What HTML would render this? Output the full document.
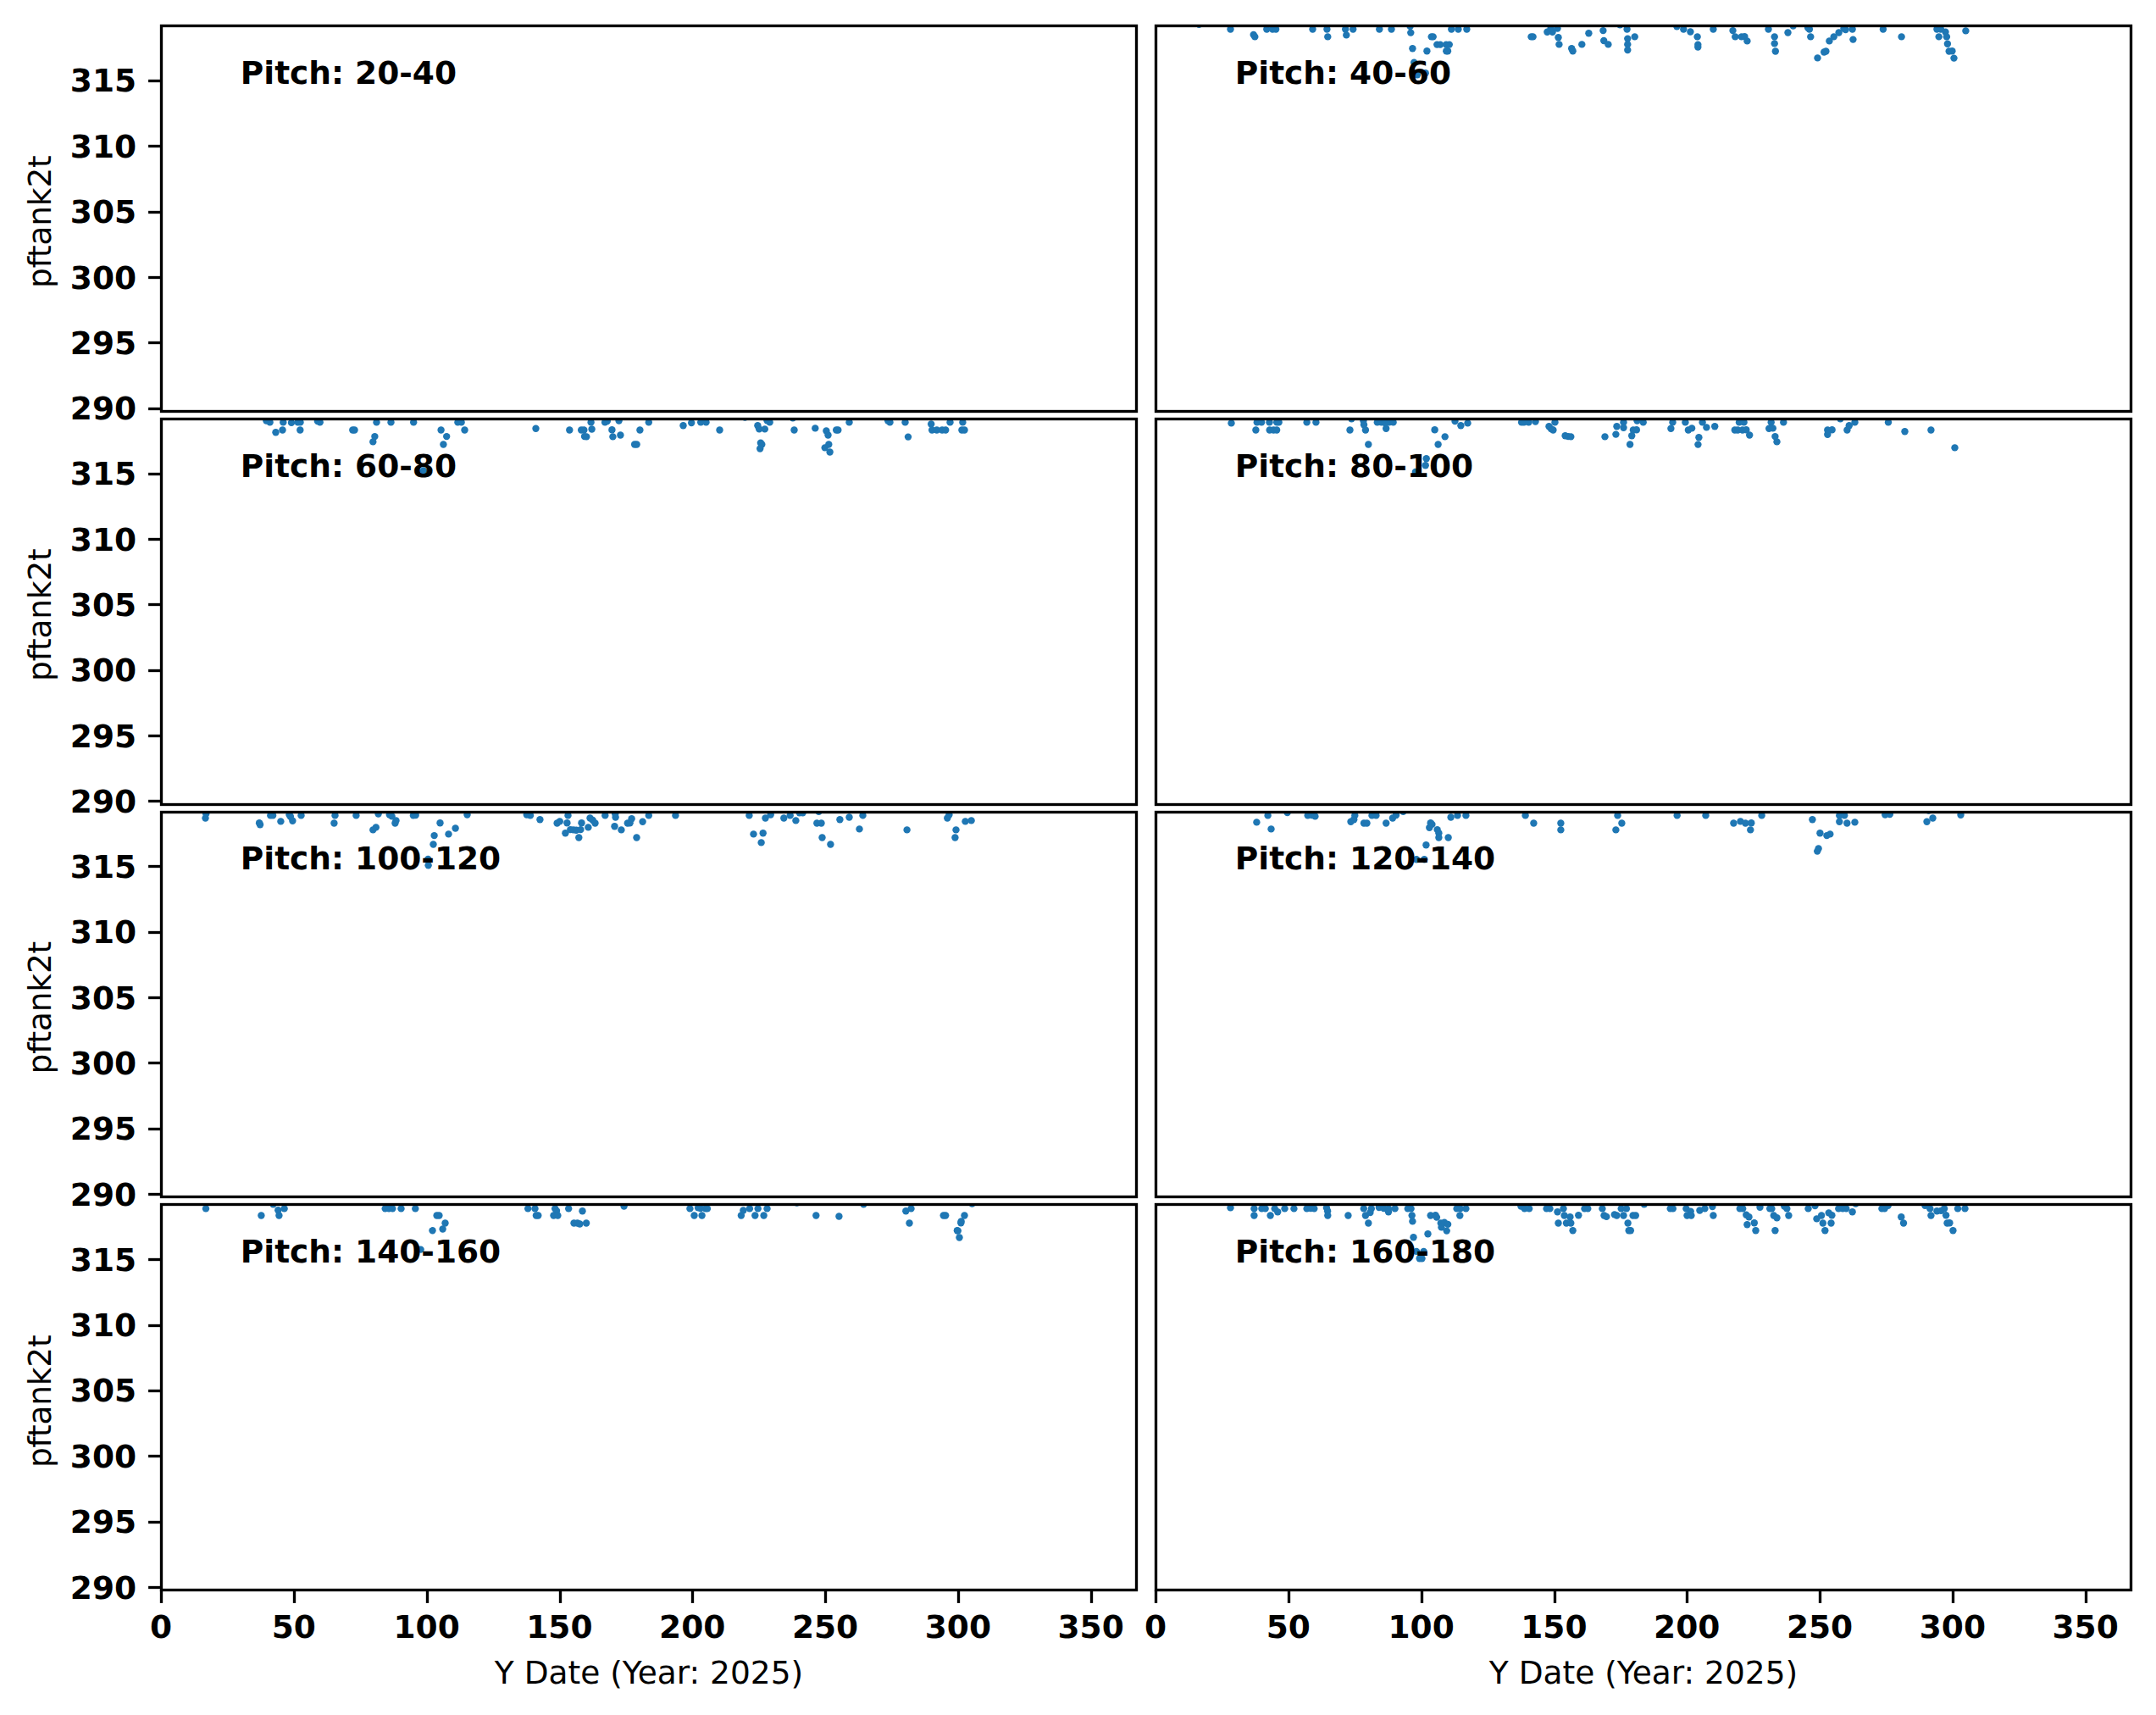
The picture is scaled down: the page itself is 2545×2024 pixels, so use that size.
<!DOCTYPE html>
<html><head><meta charset="utf-8"><title>pftank2t by pitch</title>
<style>
html,body{margin:0;padding:0;background:#fff;}
svg{display:block}
text{font-family:"DejaVu Sans","Liberation Sans",sans-serif;font-size:37.5px;fill:#000}
.b{font-weight:bold}
.sp{fill:none;stroke:#000;stroke-width:3.333;stroke-linejoin:miter}
.tk{stroke:#000;stroke-width:3.333;fill:none}
.d{fill:#1f77b4}
</style></head><body>
<svg width="2545" height="2024" viewBox="0 0 2545 2024">
<rect x="0" y="0" width="2545" height="2024" fill="#fff"/>
<defs>
<clipPath id="c00"><rect x="190.5" y="30.5" width="1151" height="455"/></clipPath>
<clipPath id="c01"><rect x="1364.5" y="30.5" width="1151" height="455"/></clipPath>
<clipPath id="c10"><rect x="190.5" y="494.5" width="1151" height="455"/></clipPath>
<clipPath id="c11"><rect x="1364.5" y="494.5" width="1151" height="455"/></clipPath>
<clipPath id="c20"><rect x="190.5" y="958.5" width="1151" height="454"/></clipPath>
<clipPath id="c21"><rect x="1364.5" y="958.5" width="1151" height="454"/></clipPath>
<clipPath id="c30"><rect x="190.5" y="1421.5" width="1151" height="455"/></clipPath>
<clipPath id="c31"><rect x="1364.5" y="1421.5" width="1151" height="455"/></clipPath>
</defs>
<line class="tk" x1="175.10" y1="482.50" x2="190.5" y2="482.50"/>
<text class="b" text-anchor="end" x="161.12" y="495.00">290</text>
<line class="tk" x1="175.10" y1="404.50" x2="190.5" y2="404.50"/>
<text class="b" text-anchor="end" x="161.12" y="418.00">295</text>
<line class="tk" x1="175.10" y1="327.50" x2="190.5" y2="327.50"/>
<text class="b" text-anchor="end" x="161.12" y="341.00">300</text>
<line class="tk" x1="175.10" y1="250.50" x2="190.5" y2="250.50"/>
<text class="b" text-anchor="end" x="161.12" y="263.00">305</text>
<line class="tk" x1="175.10" y1="172.50" x2="190.5" y2="172.50"/>
<text class="b" text-anchor="end" x="161.12" y="186.00">310</text>
<line class="tk" x1="175.10" y1="95.50" x2="190.5" y2="95.50"/>
<text class="b" text-anchor="end" x="161.12" y="108.00">315</text>
<text text-anchor="middle" transform="translate(60.2,261.70) rotate(-90)" style="letter-spacing:-0.2px">pftank2t</text>
<rect class="sp" x="190.5" y="30.5" width="1151" height="455.0"/>
<text class="b" x="283.80" y="99">Pitch: 20-40</text>
<g class="d" clip-path="url(#c01)">
<circle cx="1415.4" cy="28.9" r="4.2"/>
<circle cx="1452.5" cy="34.5" r="4.2"/>
<circle cx="1479.7" cy="41.0" r="4.2"/>
<circle cx="1481.3" cy="43.4" r="4.2"/>
<circle cx="1495.3" cy="34.5" r="4.2"/>
<circle cx="1502.2" cy="34.5" r="4.2"/>
<circle cx="1506.1" cy="34.5" r="4.2"/>
<circle cx="1549.5" cy="34.5" r="4.2"/>
<circle cx="1566.4" cy="34.5" r="4.2"/>
<circle cx="1567.3" cy="43.4" r="4.2"/>
<circle cx="1588.2" cy="34.5" r="4.2"/>
<circle cx="1589.3" cy="41.4" r="4.2"/>
<circle cx="1597.2" cy="34.5" r="4.2"/>
<circle cx="1628.3" cy="34.5" r="4.2"/>
<circle cx="1642.5" cy="34.5" r="4.2"/>
<circle cx="1664.6" cy="31.0" r="4.2"/>
<circle cx="1665.3" cy="38.6" r="4.2"/>
<circle cx="1689.7" cy="43.4" r="4.2"/>
<circle cx="1691.7" cy="43.4" r="4.2"/>
<circle cx="1696.3" cy="52.6" r="4.2"/>
<circle cx="1700.1" cy="52.6" r="4.2"/>
<circle cx="1707.1" cy="52.6" r="4.2"/>
<circle cx="1710.8" cy="52.6" r="4.2"/>
<circle cx="1667.4" cy="57.3" r="4.2"/>
<circle cx="1684.4" cy="60.2" r="4.2"/>
<circle cx="1707.3" cy="60.2" r="4.2"/>
<circle cx="1709.0" cy="60.2" r="4.2"/>
<circle cx="1669.2" cy="73.7" r="4.2"/>
<circle cx="1673.0" cy="88.3" r="4.2"/>
<circle cx="1682.7" cy="86.2" r="4.2"/>
<circle cx="1713.3" cy="34.5" r="4.2"/>
<circle cx="1721.4" cy="34.5" r="4.2"/>
<circle cx="1731.4" cy="34.5" r="4.2"/>
<circle cx="1807.5" cy="43.4" r="4.2"/>
<circle cx="1809.6" cy="43.4" r="4.2"/>
<circle cx="1826.4" cy="37.8" r="4.2"/>
<circle cx="1832.6" cy="37.8" r="4.2"/>
<circle cx="1830.6" cy="33.6" r="4.2"/>
<circle cx="1838.5" cy="33.6" r="4.2"/>
<circle cx="1839.5" cy="44.2" r="4.2"/>
<circle cx="1840.4" cy="52.4" r="4.2"/>
<circle cx="1855.2" cy="57.3" r="4.2"/>
<circle cx="1856.6" cy="60.2" r="4.2"/>
<circle cx="1867.3" cy="52.4" r="4.2"/>
<circle cx="1875.4" cy="39.2" r="4.2"/>
<circle cx="1892.4" cy="36.1" r="4.2"/>
<circle cx="1893.2" cy="48.0" r="4.2"/>
<circle cx="1898.4" cy="52.4" r="4.2"/>
<circle cx="1912.3" cy="29.2" r="4.2"/>
<circle cx="1920.6" cy="34.5" r="4.2"/>
<circle cx="1921.3" cy="45.6" r="4.2"/>
<circle cx="1921.3" cy="52.4" r="4.2"/>
<circle cx="1921.3" cy="59.1" r="4.2"/>
<circle cx="1929.7" cy="43.4" r="4.2"/>
<circle cx="1979.4" cy="31.3" r="4.2"/>
<circle cx="1987.3" cy="34.5" r="4.2"/>
<circle cx="1995.4" cy="37.5" r="4.2"/>
<circle cx="2003.6" cy="43.4" r="4.2"/>
<circle cx="2004.3" cy="52.8" r="4.2"/>
<circle cx="2004.3" cy="55.6" r="4.2"/>
<circle cx="2022.4" cy="34.5" r="4.2"/>
<circle cx="2045.5" cy="36.1" r="4.2"/>
<circle cx="2048.3" cy="43.4" r="4.2"/>
<circle cx="2055.8" cy="43.4" r="4.2"/>
<circle cx="2059.4" cy="43.1" r="4.2"/>
<circle cx="2062.4" cy="48.4" r="4.2"/>
<circle cx="2087.5" cy="34.5" r="4.2"/>
<circle cx="2094.7" cy="43.4" r="4.2"/>
<circle cx="2094.7" cy="51.4" r="4.2"/>
<circle cx="2095.8" cy="60.5" r="4.2"/>
<circle cx="2110.5" cy="38.5" r="4.2"/>
<circle cx="2116.7" cy="30.6" r="4.2"/>
<circle cx="2134.1" cy="32.7" r="4.2"/>
<circle cx="2135.9" cy="34.5" r="4.2"/>
<circle cx="2137.3" cy="43.4" r="4.2"/>
<circle cx="2145.5" cy="68.4" r="4.2"/>
<circle cx="2153.2" cy="61.5" r="4.2"/>
<circle cx="2155.4" cy="60.5" r="4.2"/>
<circle cx="2159.4" cy="48.4" r="4.2"/>
<circle cx="2164.7" cy="43.4" r="4.2"/>
<circle cx="2170.6" cy="38.5" r="4.2"/>
<circle cx="2176.5" cy="33.6" r="4.2"/>
<circle cx="2178.6" cy="35.0" r="4.2"/>
<circle cx="2186.6" cy="34.5" r="4.2"/>
<circle cx="2187.4" cy="46.6" r="4.2"/>
<circle cx="2222.9" cy="34.5" r="4.2"/>
<circle cx="2244.6" cy="43.4" r="4.2"/>
<circle cx="2286.4" cy="34.5" r="4.2"/>
<circle cx="2290.9" cy="34.5" r="4.2"/>
<circle cx="2296.5" cy="37.8" r="4.2"/>
<circle cx="2288.7" cy="43.4" r="4.2"/>
<circle cx="2297.9" cy="43.4" r="4.2"/>
<circle cx="2298.9" cy="51.7" r="4.2"/>
<circle cx="2300.7" cy="60.5" r="4.2"/>
<circle cx="2304.4" cy="60.2" r="4.2"/>
<circle cx="2306.5" cy="68.6" r="4.2"/>
<circle cx="2320.4" cy="36.4" r="4.2"/>
</g>
<rect class="sp" x="1364.5" y="30.5" width="1151" height="455.0"/>
<text class="b" x="1457.80" y="99">Pitch: 40-60</text>
<g class="d" clip-path="url(#c10)">
<circle cx="314.4" cy="496.6" r="4.2"/>
<circle cx="318.6" cy="498.4" r="4.2"/>
<circle cx="334.3" cy="498.4" r="4.2"/>
<circle cx="344.0" cy="498.9" r="4.2"/>
<circle cx="351.6" cy="498.4" r="4.2"/>
<circle cx="354.5" cy="498.4" r="4.2"/>
<circle cx="374.9" cy="497.0" r="4.2"/>
<circle cx="377.7" cy="498.4" r="4.2"/>
<circle cx="325.5" cy="510.3" r="4.2"/>
<circle cx="333.5" cy="507.5" r="4.2"/>
<circle cx="354.3" cy="507.5" r="4.2"/>
<circle cx="416.3" cy="507.5" r="4.2"/>
<circle cx="418.5" cy="507.5" r="4.2"/>
<circle cx="444.5" cy="498.4" r="4.2"/>
<circle cx="461.5" cy="498.4" r="4.2"/>
<circle cx="442.4" cy="515.1" r="4.2"/>
<circle cx="440.3" cy="521.4" r="4.2"/>
<circle cx="488.2" cy="498.4" r="4.2"/>
<circle cx="520.6" cy="507.5" r="4.2"/>
<circle cx="527.2" cy="515.1" r="4.2"/>
<circle cx="523.4" cy="524.5" r="4.2"/>
<circle cx="540.4" cy="498.4" r="4.2"/>
<circle cx="544.6" cy="498.4" r="4.2"/>
<circle cx="548.5" cy="507.5" r="4.2"/>
<circle cx="500.0" cy="555.5" r="4.2"/>
<circle cx="632.5" cy="505.7" r="4.2"/>
<circle cx="672.3" cy="507.5" r="4.2"/>
<circle cx="686.2" cy="507.5" r="4.2"/>
<circle cx="689.3" cy="507.5" r="4.2"/>
<circle cx="690.0" cy="515.1" r="4.2"/>
<circle cx="692.3" cy="515.4" r="4.2"/>
<circle cx="697.6" cy="498.4" r="4.2"/>
<circle cx="698.6" cy="506.5" r="4.2"/>
<circle cx="714.1" cy="498.4" r="4.2"/>
<circle cx="716.8" cy="497.0" r="4.2"/>
<circle cx="722.4" cy="507.2" r="4.2"/>
<circle cx="723.4" cy="515.4" r="4.2"/>
<circle cx="730.6" cy="496.6" r="4.2"/>
<circle cx="732.4" cy="513.5" r="4.2"/>
<circle cx="749.1" cy="524.5" r="4.2"/>
<circle cx="751.6" cy="524.5" r="4.2"/>
<circle cx="755.4" cy="507.5" r="4.2"/>
<circle cx="765.8" cy="498.4" r="4.2"/>
<circle cx="806.5" cy="502.3" r="4.2"/>
<circle cx="816.2" cy="499.1" r="4.2"/>
<circle cx="827.2" cy="498.4" r="4.2"/>
<circle cx="833.5" cy="498.4" r="4.2"/>
<circle cx="849.5" cy="507.5" r="4.2"/>
<circle cx="879.4" cy="492.5" r="4.2"/>
<circle cx="894.4" cy="502.3" r="4.2"/>
<circle cx="896.2" cy="506.4" r="4.2"/>
<circle cx="902.8" cy="506.4" r="4.2"/>
<circle cx="905.5" cy="496.3" r="4.2"/>
<circle cx="908.6" cy="498.4" r="4.2"/>
<circle cx="897.9" cy="522.8" r="4.2"/>
<circle cx="899.3" cy="524.5" r="4.2"/>
<circle cx="897.2" cy="529.5" r="4.2"/>
<circle cx="935.9" cy="493.3" r="4.2"/>
<circle cx="937.5" cy="507.5" r="4.2"/>
<circle cx="962.3" cy="505.4" r="4.2"/>
<circle cx="975.4" cy="508.5" r="4.2"/>
<circle cx="977.5" cy="513.5" r="4.2"/>
<circle cx="987.2" cy="507.5" r="4.2"/>
<circle cx="989.3" cy="507.5" r="4.2"/>
<circle cx="978.3" cy="524.5" r="4.2"/>
<circle cx="973.7" cy="528.4" r="4.2"/>
<circle cx="979.6" cy="533.5" r="4.2"/>
<circle cx="1002.5" cy="498.4" r="4.2"/>
<circle cx="1048.2" cy="496.6" r="4.2"/>
<circle cx="1050.5" cy="498.4" r="4.2"/>
<circle cx="1068.5" cy="498.4" r="4.2"/>
<circle cx="1072.0" cy="515.6" r="4.2"/>
<circle cx="1099.2" cy="500.5" r="4.2"/>
<circle cx="1100.2" cy="507.5" r="4.2"/>
<circle cx="1105.8" cy="507.5" r="4.2"/>
<circle cx="1112.1" cy="507.5" r="4.2"/>
<circle cx="1116.2" cy="507.5" r="4.2"/>
<circle cx="1121.5" cy="498.4" r="4.2"/>
<circle cx="1136.4" cy="498.4" r="4.2"/>
<circle cx="1135.4" cy="507.5" r="4.2"/>
<circle cx="1138.5" cy="507.5" r="4.2"/>
</g>
<line class="tk" x1="175.10" y1="945.50" x2="190.5" y2="945.50"/>
<text class="b" text-anchor="end" x="161.12" y="959.00">290</text>
<line class="tk" x1="175.10" y1="868.50" x2="190.5" y2="868.50"/>
<text class="b" text-anchor="end" x="161.12" y="882.00">295</text>
<line class="tk" x1="175.10" y1="791.50" x2="190.5" y2="791.50"/>
<text class="b" text-anchor="end" x="161.12" y="804.00">300</text>
<line class="tk" x1="175.10" y1="713.50" x2="190.5" y2="713.50"/>
<text class="b" text-anchor="end" x="161.12" y="727.00">305</text>
<line class="tk" x1="175.10" y1="636.50" x2="190.5" y2="636.50"/>
<text class="b" text-anchor="end" x="161.12" y="650.00">310</text>
<line class="tk" x1="175.10" y1="559.50" x2="190.5" y2="559.50"/>
<text class="b" text-anchor="end" x="161.12" y="572.00">315</text>
<text text-anchor="middle" transform="translate(60.2,725.70) rotate(-90)" style="letter-spacing:-0.2px">pftank2t</text>
<rect class="sp" x="190.5" y="494.5" width="1151" height="455.0"/>
<text class="b" x="283.80" y="563">Pitch: 60-80</text>
<g class="d" clip-path="url(#c11)">
<circle cx="1453.5" cy="499.4" r="4.2"/>
<circle cx="1483.8" cy="498.4" r="4.2"/>
<circle cx="1489.1" cy="498.4" r="4.2"/>
<circle cx="1498.5" cy="498.4" r="4.2"/>
<circle cx="1507.2" cy="498.4" r="4.2"/>
<circle cx="1509.6" cy="498.4" r="4.2"/>
<circle cx="1482.4" cy="507.5" r="4.2"/>
<circle cx="1498.7" cy="507.5" r="4.2"/>
<circle cx="1503.3" cy="507.5" r="4.2"/>
<circle cx="1507.1" cy="507.5" r="4.2"/>
<circle cx="1542.6" cy="498.4" r="4.2"/>
<circle cx="1553.4" cy="498.4" r="4.2"/>
<circle cx="1595.4" cy="494.3" r="4.2"/>
<circle cx="1609.4" cy="496.6" r="4.2"/>
<circle cx="1610.0" cy="501.2" r="4.2"/>
<circle cx="1593.5" cy="507.5" r="4.2"/>
<circle cx="1611.9" cy="507.5" r="4.2"/>
<circle cx="1615.3" cy="524.5" r="4.2"/>
<circle cx="1625.8" cy="498.4" r="4.2"/>
<circle cx="1630.6" cy="498.4" r="4.2"/>
<circle cx="1634.8" cy="499.1" r="4.2"/>
<circle cx="1639.7" cy="498.4" r="4.2"/>
<circle cx="1644.6" cy="498.4" r="4.2"/>
<circle cx="1636.2" cy="505.7" r="4.2"/>
<circle cx="1693.6" cy="507.2" r="4.2"/>
<circle cx="1705.7" cy="515.4" r="4.2"/>
<circle cx="1697.6" cy="524.5" r="4.2"/>
<circle cx="1683.7" cy="541.3" r="4.2"/>
<circle cx="1682.7" cy="549.2" r="4.2"/>
<circle cx="1670.9" cy="556.9" r="4.2"/>
<circle cx="1717.5" cy="497.0" r="4.2"/>
<circle cx="1724.4" cy="502.3" r="4.2"/>
<circle cx="1732.5" cy="499.4" r="4.2"/>
<circle cx="1796.1" cy="498.4" r="4.2"/>
<circle cx="1798.9" cy="498.4" r="4.2"/>
<circle cx="1804.5" cy="498.4" r="4.2"/>
<circle cx="1812.5" cy="497.5" r="4.2"/>
<circle cx="1835.5" cy="498.4" r="4.2"/>
<circle cx="1828.5" cy="503.3" r="4.2"/>
<circle cx="1830.9" cy="506.1" r="4.2"/>
<circle cx="1833.4" cy="507.5" r="4.2"/>
<circle cx="1847.6" cy="514.2" r="4.2"/>
<circle cx="1851.1" cy="515.1" r="4.2"/>
<circle cx="1854.3" cy="515.4" r="4.2"/>
<circle cx="1894.5" cy="515.4" r="4.2"/>
<circle cx="1907.4" cy="512.6" r="4.2"/>
<circle cx="1908.5" cy="503.3" r="4.2"/>
<circle cx="1916.5" cy="498.4" r="4.2"/>
<circle cx="1916.5" cy="504.7" r="4.2"/>
<circle cx="1924.1" cy="524.5" r="4.2"/>
<circle cx="1926.2" cy="514.2" r="4.2"/>
<circle cx="1927.9" cy="507.5" r="4.2"/>
<circle cx="1931.8" cy="507.2" r="4.2"/>
<circle cx="1932.5" cy="496.6" r="4.2"/>
<circle cx="1939.7" cy="498.4" r="4.2"/>
<circle cx="1974.5" cy="498.4" r="4.2"/>
<circle cx="1972.4" cy="505.7" r="4.2"/>
<circle cx="1989.4" cy="498.4" r="4.2"/>
<circle cx="1992.9" cy="507.5" r="4.2"/>
<circle cx="1997.1" cy="505.4" r="4.2"/>
<circle cx="2009.6" cy="498.4" r="4.2"/>
<circle cx="2014.4" cy="504.4" r="4.2"/>
<circle cx="2024.2" cy="503.3" r="4.2"/>
<circle cx="2005.4" cy="516.2" r="4.2"/>
<circle cx="2004.4" cy="524.6" r="4.2"/>
<circle cx="2053.0" cy="498.4" r="4.2"/>
<circle cx="2058.6" cy="498.4" r="4.2"/>
<circle cx="2047.8" cy="507.5" r="4.2"/>
<circle cx="2051.3" cy="507.5" r="4.2"/>
<circle cx="2056.9" cy="507.5" r="4.2"/>
<circle cx="2061.3" cy="507.2" r="4.2"/>
<circle cx="2065.2" cy="513.5" r="4.2"/>
<circle cx="2090.7" cy="498.4" r="4.2"/>
<circle cx="2088.2" cy="505.7" r="4.2"/>
<circle cx="2092.8" cy="505.4" r="4.2"/>
<circle cx="2095.4" cy="515.1" r="4.2"/>
<circle cx="2097.5" cy="521.4" r="4.2"/>
<circle cx="2105.3" cy="498.4" r="4.2"/>
<circle cx="2157.3" cy="507.5" r="4.2"/>
<circle cx="2162.6" cy="507.2" r="4.2"/>
<circle cx="2157.3" cy="512.8" r="4.2"/>
<circle cx="2172.4" cy="494.3" r="4.2"/>
<circle cx="2182.8" cy="502.3" r="4.2"/>
<circle cx="2180.4" cy="507.5" r="4.2"/>
<circle cx="2189.5" cy="498.4" r="4.2"/>
<circle cx="2229.0" cy="498.4" r="4.2"/>
<circle cx="2248.5" cy="509.3" r="4.2"/>
<circle cx="2279.4" cy="507.5" r="4.2"/>
<circle cx="2307.5" cy="528.4" r="4.2"/>
</g>
<rect class="sp" x="1364.5" y="494.5" width="1151" height="455.0"/>
<text class="b" x="1457.80" y="563">Pitch: 80-100</text>
<g class="d" clip-path="url(#c20)">
<circle cx="243.2" cy="960.6" r="4.2"/>
<circle cx="242.5" cy="965.6" r="4.2"/>
<circle cx="306.1" cy="971.2" r="4.2"/>
<circle cx="307.0" cy="973.2" r="4.2"/>
<circle cx="319.3" cy="962.4" r="4.2"/>
<circle cx="322.1" cy="962.4" r="4.2"/>
<circle cx="331.4" cy="969.4" r="4.2"/>
<circle cx="341.5" cy="961.5" r="4.2"/>
<circle cx="342.9" cy="963.8" r="4.2"/>
<circle cx="345.4" cy="968.7" r="4.2"/>
<circle cx="355.5" cy="962.4" r="4.2"/>
<circle cx="395.5" cy="962.4" r="4.2"/>
<circle cx="394.4" cy="971.5" r="4.2"/>
<circle cx="420.4" cy="962.4" r="4.2"/>
<circle cx="446.6" cy="960.6" r="4.2"/>
<circle cx="443.8" cy="976.4" r="4.2"/>
<circle cx="440.3" cy="979.4" r="4.2"/>
<circle cx="459.8" cy="961.5" r="4.2"/>
<circle cx="462.6" cy="963.4" r="4.2"/>
<circle cx="467.5" cy="968.4" r="4.2"/>
<circle cx="466.4" cy="971.5" r="4.2"/>
<circle cx="487.9" cy="962.4" r="4.2"/>
<circle cx="490.7" cy="962.0" r="4.2"/>
<circle cx="519.5" cy="971.2" r="4.2"/>
<circle cx="537.6" cy="977.5" r="4.2"/>
<circle cx="529.5" cy="984.4" r="4.2"/>
<circle cx="512.6" cy="986.1" r="4.2"/>
<circle cx="511.5" cy="996.5" r="4.2"/>
<circle cx="505.3" cy="1013.9" r="4.2"/>
<circle cx="505.6" cy="1021.3" r="4.2"/>
<circle cx="551.5" cy="961.5" r="4.2"/>
<circle cx="621.8" cy="961.5" r="4.2"/>
<circle cx="626.0" cy="962.4" r="4.2"/>
<circle cx="637.4" cy="967.3" r="4.2"/>
<circle cx="657.6" cy="971.5" r="4.2"/>
<circle cx="660.8" cy="969.4" r="4.2"/>
<circle cx="670.5" cy="962.4" r="4.2"/>
<circle cx="669.4" cy="971.2" r="4.2"/>
<circle cx="667.4" cy="983.3" r="4.2"/>
<circle cx="673.3" cy="979.1" r="4.2"/>
<circle cx="676.8" cy="979.4" r="4.2"/>
<circle cx="680.2" cy="979.8" r="4.2"/>
<circle cx="685.4" cy="979.1" r="4.2"/>
<circle cx="686.5" cy="971.2" r="4.2"/>
<circle cx="683.3" cy="988.5" r="4.2"/>
<circle cx="694.4" cy="976.4" r="4.2"/>
<circle cx="696.5" cy="965.5" r="4.2"/>
<circle cx="699.7" cy="968.0" r="4.2"/>
<circle cx="702.5" cy="971.5" r="4.2"/>
<circle cx="714.3" cy="962.4" r="4.2"/>
<circle cx="726.2" cy="960.6" r="4.2"/>
<circle cx="726.6" cy="964.5" r="4.2"/>
<circle cx="725.5" cy="975.2" r="4.2"/>
<circle cx="733.4" cy="979.4" r="4.2"/>
<circle cx="740.8" cy="971.5" r="4.2"/>
<circle cx="743.6" cy="971.2" r="4.2"/>
<circle cx="745.6" cy="966.3" r="4.2"/>
<circle cx="751.5" cy="988.5" r="4.2"/>
<circle cx="758.6" cy="969.7" r="4.2"/>
<circle cx="765.8" cy="962.4" r="4.2"/>
<circle cx="797.4" cy="962.4" r="4.2"/>
<circle cx="884.4" cy="962.4" r="4.2"/>
<circle cx="903.5" cy="965.5" r="4.2"/>
<circle cx="909.7" cy="961.5" r="4.2"/>
<circle cx="889.5" cy="984.4" r="4.2"/>
<circle cx="900.7" cy="983.3" r="4.2"/>
<circle cx="898.6" cy="994.4" r="4.2"/>
<circle cx="925.3" cy="965.5" r="4.2"/>
<circle cx="932.7" cy="962.4" r="4.2"/>
<circle cx="939.4" cy="968.4" r="4.2"/>
<circle cx="943.8" cy="959.2" r="4.2"/>
<circle cx="947.6" cy="959.2" r="4.2"/>
<circle cx="966.5" cy="957.8" r="4.2"/>
<circle cx="964.3" cy="971.5" r="4.2"/>
<circle cx="969.5" cy="971.5" r="4.2"/>
<circle cx="970.5" cy="988.5" r="4.2"/>
<circle cx="980.4" cy="996.5" r="4.2"/>
<circle cx="991.4" cy="967.3" r="4.2"/>
<circle cx="1002.5" cy="964.5" r="4.2"/>
<circle cx="1018.5" cy="962.4" r="4.2"/>
<circle cx="1014.5" cy="978.4" r="4.2"/>
<circle cx="1070.6" cy="979.4" r="4.2"/>
<circle cx="1120.4" cy="961.5" r="4.2"/>
<circle cx="1118.3" cy="965.5" r="4.2"/>
<circle cx="1128.5" cy="979.4" r="4.2"/>
<circle cx="1127.4" cy="988.5" r="4.2"/>
<circle cx="1139.5" cy="969.4" r="4.2"/>
<circle cx="1146.6" cy="968.4" r="4.2"/>
</g>
<line class="tk" x1="175.10" y1="1409.50" x2="190.5" y2="1409.50"/>
<text class="b" text-anchor="end" x="161.12" y="1423.00">290</text>
<line class="tk" x1="175.10" y1="1332.50" x2="190.5" y2="1332.50"/>
<text class="b" text-anchor="end" x="161.12" y="1345.00">295</text>
<line class="tk" x1="175.10" y1="1254.50" x2="190.5" y2="1254.50"/>
<text class="b" text-anchor="end" x="161.12" y="1268.00">300</text>
<line class="tk" x1="175.10" y1="1177.50" x2="190.5" y2="1177.50"/>
<text class="b" text-anchor="end" x="161.12" y="1191.00">305</text>
<line class="tk" x1="175.10" y1="1100.50" x2="190.5" y2="1100.50"/>
<text class="b" text-anchor="end" x="161.12" y="1113.00">310</text>
<line class="tk" x1="175.10" y1="1022.50" x2="190.5" y2="1022.50"/>
<text class="b" text-anchor="end" x="161.12" y="1036.00">315</text>
<text text-anchor="middle" transform="translate(60.2,1189.20) rotate(-90)" style="letter-spacing:-0.2px">pftank2t</text>
<rect class="sp" x="190.5" y="958.5" width="1151" height="454.0"/>
<text class="b" x="283.80" y="1026">Pitch: 100-120</text>
<g class="d" clip-path="url(#c21)">
<circle cx="1483.4" cy="970.4" r="4.2"/>
<circle cx="1496.6" cy="962.4" r="4.2"/>
<circle cx="1500.5" cy="978.4" r="4.2"/>
<circle cx="1519.6" cy="959.0" r="4.2"/>
<circle cx="1543.7" cy="962.4" r="4.2"/>
<circle cx="1548.5" cy="962.0" r="4.2"/>
<circle cx="1552.4" cy="963.4" r="4.2"/>
<circle cx="1599.3" cy="962.4" r="4.2"/>
<circle cx="1598.2" cy="967.3" r="4.2"/>
<circle cx="1594.5" cy="969.7" r="4.2"/>
<circle cx="1610.0" cy="971.5" r="4.2"/>
<circle cx="1613.5" cy="971.5" r="4.2"/>
<circle cx="1619.5" cy="962.4" r="4.2"/>
<circle cx="1624.4" cy="962.4" r="4.2"/>
<circle cx="1636.2" cy="971.5" r="4.2"/>
<circle cx="1643.9" cy="965.5" r="4.2"/>
<circle cx="1648.0" cy="962.0" r="4.2"/>
<circle cx="1656.4" cy="957.8" r="4.2"/>
<circle cx="1712.6" cy="964.5" r="4.2"/>
<circle cx="1720.5" cy="962.4" r="4.2"/>
<circle cx="1730.4" cy="962.4" r="4.2"/>
<circle cx="1688.7" cy="971.2" r="4.2"/>
<circle cx="1690.4" cy="972.9" r="4.2"/>
<circle cx="1687.3" cy="976.8" r="4.2"/>
<circle cx="1696.6" cy="979.1" r="4.2"/>
<circle cx="1698.4" cy="983.3" r="4.2"/>
<circle cx="1698.4" cy="988.5" r="4.2"/>
<circle cx="1709.6" cy="988.5" r="4.2"/>
<circle cx="1683.4" cy="997.2" r="4.2"/>
<circle cx="1672.0" cy="1014.3" r="4.2"/>
<circle cx="1681.3" cy="1014.3" r="4.2"/>
<circle cx="1800.6" cy="962.4" r="4.2"/>
<circle cx="1810.4" cy="971.5" r="4.2"/>
<circle cx="1842.4" cy="971.5" r="4.2"/>
<circle cx="1842.4" cy="979.4" r="4.2"/>
<circle cx="1909.5" cy="962.4" r="4.2"/>
<circle cx="1914.4" cy="971.5" r="4.2"/>
<circle cx="1907.4" cy="979.4" r="4.2"/>
<circle cx="1979.7" cy="962.4" r="4.2"/>
<circle cx="2013.5" cy="962.4" r="4.2"/>
<circle cx="2046.4" cy="971.5" r="4.2"/>
<circle cx="2054.5" cy="969.4" r="4.2"/>
<circle cx="2060.4" cy="971.5" r="4.2"/>
<circle cx="2067.3" cy="971.2" r="4.2"/>
<circle cx="2066.3" cy="979.4" r="4.2"/>
<circle cx="2079.6" cy="962.4" r="4.2"/>
<circle cx="2139.4" cy="967.3" r="4.2"/>
<circle cx="2148.4" cy="983.3" r="4.2"/>
<circle cx="2156.4" cy="986.1" r="4.2"/>
<circle cx="2160.3" cy="984.4" r="4.2"/>
<circle cx="2146.6" cy="1001.4" r="4.2"/>
<circle cx="2145.2" cy="1004.6" r="4.2"/>
<circle cx="2171.3" cy="962.4" r="4.2"/>
<circle cx="2177.2" cy="962.4" r="4.2"/>
<circle cx="2171.3" cy="969.7" r="4.2"/>
<circle cx="2180.3" cy="971.5" r="4.2"/>
<circle cx="2189.5" cy="970.4" r="4.2"/>
<circle cx="2225.3" cy="961.5" r="4.2"/>
<circle cx="2230.8" cy="961.0" r="4.2"/>
<circle cx="2274.5" cy="969.7" r="4.2"/>
<circle cx="2281.5" cy="965.5" r="4.2"/>
<circle cx="2276.6" cy="956.5" r="4.2"/>
<circle cx="2314.5" cy="961.7" r="4.2"/>
</g>
<rect class="sp" x="1364.5" y="958.5" width="1151" height="454.0"/>
<text class="b" x="1457.80" y="1026">Pitch: 120-140</text>
<g class="d" clip-path="url(#c30)">
<circle cx="243.0" cy="1426.4" r="4.2"/>
<circle cx="308.4" cy="1434.5" r="4.2"/>
<circle cx="322.5" cy="1421.3" r="4.2"/>
<circle cx="328.3" cy="1428.2" r="4.2"/>
<circle cx="329.4" cy="1434.5" r="4.2"/>
<circle cx="335.6" cy="1426.4" r="4.2"/>
<circle cx="454.7" cy="1426.4" r="4.2"/>
<circle cx="459.1" cy="1426.4" r="4.2"/>
<circle cx="463.3" cy="1426.4" r="4.2"/>
<circle cx="473.5" cy="1426.4" r="4.2"/>
<circle cx="490.3" cy="1426.4" r="4.2"/>
<circle cx="515.6" cy="1434.5" r="4.2"/>
<circle cx="518.4" cy="1434.5" r="4.2"/>
<circle cx="525.5" cy="1443.5" r="4.2"/>
<circle cx="522.6" cy="1450.5" r="4.2"/>
<circle cx="510.5" cy="1452.3" r="4.2"/>
<circle cx="496.6" cy="1474.6" r="4.2"/>
<circle cx="623.2" cy="1426.4" r="4.2"/>
<circle cx="631.5" cy="1426.4" r="4.2"/>
<circle cx="632.9" cy="1434.5" r="4.2"/>
<circle cx="635.3" cy="1434.5" r="4.2"/>
<circle cx="655.2" cy="1426.4" r="4.2"/>
<circle cx="657.0" cy="1428.9" r="4.2"/>
<circle cx="653.5" cy="1434.5" r="4.2"/>
<circle cx="658.4" cy="1434.5" r="4.2"/>
<circle cx="671.2" cy="1426.4" r="4.2"/>
<circle cx="687.5" cy="1429.3" r="4.2"/>
<circle cx="677.5" cy="1443.5" r="4.2"/>
<circle cx="681.6" cy="1443.5" r="4.2"/>
<circle cx="684.4" cy="1444.5" r="4.2"/>
<circle cx="692.1" cy="1443.5" r="4.2"/>
<circle cx="736.6" cy="1423.6" r="4.2"/>
<circle cx="814.4" cy="1426.4" r="4.2"/>
<circle cx="824.1" cy="1425.4" r="4.2"/>
<circle cx="826.9" cy="1426.1" r="4.2"/>
<circle cx="832.9" cy="1426.4" r="4.2"/>
<circle cx="834.9" cy="1426.4" r="4.2"/>
<circle cx="819.5" cy="1434.5" r="4.2"/>
<circle cx="828.6" cy="1434.5" r="4.2"/>
<circle cx="877.4" cy="1428.5" r="4.2"/>
<circle cx="874.9" cy="1434.5" r="4.2"/>
<circle cx="884.9" cy="1426.4" r="4.2"/>
<circle cx="894.7" cy="1426.4" r="4.2"/>
<circle cx="905.5" cy="1426.4" r="4.2"/>
<circle cx="891.3" cy="1434.5" r="4.2"/>
<circle cx="901.6" cy="1434.5" r="4.2"/>
<circle cx="940.6" cy="1419.5" r="4.2"/>
<circle cx="963.3" cy="1434.5" r="4.2"/>
<circle cx="990.4" cy="1435.5" r="4.2"/>
<circle cx="1019.4" cy="1421.3" r="4.2"/>
<circle cx="1075.5" cy="1426.4" r="4.2"/>
<circle cx="1069.3" cy="1429.3" r="4.2"/>
<circle cx="1073.5" cy="1443.5" r="4.2"/>
<circle cx="1113.7" cy="1434.5" r="4.2"/>
<circle cx="1116.2" cy="1434.5" r="4.2"/>
<circle cx="1138.5" cy="1434.5" r="4.2"/>
<circle cx="1134.6" cy="1441.4" r="4.2"/>
<circle cx="1134.3" cy="1443.2" r="4.2"/>
<circle cx="1129.9" cy="1452.3" r="4.2"/>
<circle cx="1130.8" cy="1452.6" r="4.2"/>
<circle cx="1132.5" cy="1460.5" r="4.2"/>
<circle cx="1147.5" cy="1420.6" r="4.2"/>
</g>
<line class="tk" x1="175.10" y1="1873.50" x2="190.5" y2="1873.50"/>
<text class="b" text-anchor="end" x="161.12" y="1887.00">290</text>
<line class="tk" x1="175.10" y1="1796.50" x2="190.5" y2="1796.50"/>
<text class="b" text-anchor="end" x="161.12" y="1809.00">295</text>
<line class="tk" x1="175.10" y1="1718.50" x2="190.5" y2="1718.50"/>
<text class="b" text-anchor="end" x="161.12" y="1732.00">300</text>
<line class="tk" x1="175.10" y1="1641.50" x2="190.5" y2="1641.50"/>
<text class="b" text-anchor="end" x="161.12" y="1654.00">305</text>
<line class="tk" x1="175.10" y1="1564.50" x2="190.5" y2="1564.50"/>
<text class="b" text-anchor="end" x="161.12" y="1577.00">310</text>
<line class="tk" x1="175.10" y1="1486.50" x2="190.5" y2="1486.50"/>
<text class="b" text-anchor="end" x="161.12" y="1500.00">315</text>
<text text-anchor="middle" transform="translate(60.2,1653.80) rotate(-90)" style="letter-spacing:-0.2px">pftank2t</text>
<line class="tk" x1="190.50" y1="1876.5" x2="190.50" y2="1891.90"/>
<text class="b" text-anchor="middle" x="190.00" y="1933.20">0</text>
<line class="tk" x1="347.50" y1="1876.5" x2="347.50" y2="1891.90"/>
<text class="b" text-anchor="middle" x="346.81" y="1933.20">50</text>
<line class="tk" x1="504.50" y1="1876.5" x2="504.50" y2="1891.90"/>
<text class="b" text-anchor="middle" x="503.62" y="1933.20">100</text>
<line class="tk" x1="661.50" y1="1876.5" x2="661.50" y2="1891.90"/>
<text class="b" text-anchor="middle" x="660.43" y="1933.20">150</text>
<line class="tk" x1="817.50" y1="1876.5" x2="817.50" y2="1891.90"/>
<text class="b" text-anchor="middle" x="817.24" y="1933.20">200</text>
<line class="tk" x1="974.50" y1="1876.5" x2="974.50" y2="1891.90"/>
<text class="b" text-anchor="middle" x="974.05" y="1933.20">250</text>
<line class="tk" x1="1131.50" y1="1876.5" x2="1131.50" y2="1891.90"/>
<text class="b" text-anchor="middle" x="1130.86" y="1933.20">300</text>
<line class="tk" x1="1288.50" y1="1876.5" x2="1288.50" y2="1891.90"/>
<text class="b" text-anchor="middle" x="1287.67" y="1933.20">350</text>
<text text-anchor="middle" x="766.00" y="1987">Y Date (Year: 2025)</text>
<rect class="sp" x="190.5" y="1421.5" width="1151" height="455.0"/>
<text class="b" x="283.80" y="1490">Pitch: 140-160</text>
<g class="d" clip-path="url(#c31)">
<circle cx="1452.5" cy="1425.4" r="4.2"/>
<circle cx="1480.4" cy="1426.4" r="4.2"/>
<circle cx="1480.4" cy="1434.5" r="4.2"/>
<circle cx="1489.4" cy="1426.4" r="4.2"/>
<circle cx="1493.6" cy="1426.4" r="4.2"/>
<circle cx="1499.6" cy="1434.5" r="4.2"/>
<circle cx="1504.7" cy="1426.4" r="4.2"/>
<circle cx="1508.2" cy="1430.3" r="4.2"/>
<circle cx="1516.5" cy="1426.4" r="4.2"/>
<circle cx="1527.4" cy="1426.4" r="4.2"/>
<circle cx="1542.6" cy="1426.4" r="4.2"/>
<circle cx="1547.2" cy="1426.1" r="4.2"/>
<circle cx="1551.3" cy="1426.4" r="4.2"/>
<circle cx="1565.9" cy="1425.4" r="4.2"/>
<circle cx="1567.1" cy="1429.3" r="4.2"/>
<circle cx="1567.3" cy="1434.5" r="4.2"/>
<circle cx="1591.4" cy="1434.5" r="4.2"/>
<circle cx="1609.8" cy="1426.4" r="4.2"/>
<circle cx="1611.9" cy="1434.5" r="4.2"/>
<circle cx="1615.3" cy="1443.5" r="4.2"/>
<circle cx="1618.8" cy="1426.4" r="4.2"/>
<circle cx="1617.4" cy="1431.0" r="4.2"/>
<circle cx="1627.9" cy="1425.0" r="4.2"/>
<circle cx="1633.4" cy="1426.1" r="4.2"/>
<circle cx="1639.0" cy="1426.4" r="4.2"/>
<circle cx="1646.6" cy="1426.4" r="4.2"/>
<circle cx="1639.0" cy="1430.3" r="4.2"/>
<circle cx="1661.8" cy="1426.4" r="4.2"/>
<circle cx="1665.6" cy="1426.4" r="4.2"/>
<circle cx="1666.7" cy="1434.5" r="4.2"/>
<circle cx="1667.4" cy="1441.4" r="4.2"/>
<circle cx="1668.5" cy="1460.2" r="4.2"/>
<circle cx="1685.5" cy="1456.3" r="4.2"/>
<circle cx="1688.7" cy="1434.5" r="4.2"/>
<circle cx="1694.5" cy="1434.2" r="4.2"/>
<circle cx="1695.9" cy="1436.6" r="4.2"/>
<circle cx="1700.8" cy="1443.5" r="4.2"/>
<circle cx="1705.0" cy="1442.8" r="4.2"/>
<circle cx="1709.1" cy="1444.9" r="4.2"/>
<circle cx="1701.5" cy="1448.4" r="4.2"/>
<circle cx="1707.7" cy="1452.6" r="4.2"/>
<circle cx="1672.0" cy="1476.9" r="4.2"/>
<circle cx="1680.6" cy="1476.9" r="4.2"/>
<circle cx="1675.7" cy="1485.3" r="4.2"/>
<circle cx="1678.5" cy="1485.3" r="4.2"/>
<circle cx="1719.6" cy="1426.4" r="4.2"/>
<circle cx="1723.7" cy="1426.4" r="4.2"/>
<circle cx="1730.4" cy="1426.4" r="4.2"/>
<circle cx="1723.3" cy="1434.5" r="4.2"/>
<circle cx="1795.4" cy="1423.6" r="4.2"/>
<circle cx="1799.6" cy="1426.4" r="4.2"/>
<circle cx="1805.1" cy="1426.4" r="4.2"/>
<circle cx="1825.6" cy="1426.4" r="4.2"/>
<circle cx="1829.5" cy="1426.4" r="4.2"/>
<circle cx="1838.5" cy="1430.3" r="4.2"/>
<circle cx="1845.5" cy="1426.4" r="4.2"/>
<circle cx="1846.6" cy="1434.5" r="4.2"/>
<circle cx="1853.4" cy="1436.2" r="4.2"/>
<circle cx="1839.5" cy="1443.5" r="4.2"/>
<circle cx="1849.0" cy="1443.5" r="4.2"/>
<circle cx="1854.3" cy="1443.5" r="4.2"/>
<circle cx="1856.6" cy="1452.3" r="4.2"/>
<circle cx="1863.3" cy="1434.2" r="4.2"/>
<circle cx="1870.5" cy="1426.4" r="4.2"/>
<circle cx="1874.3" cy="1426.4" r="4.2"/>
<circle cx="1891.4" cy="1426.4" r="4.2"/>
<circle cx="1893.5" cy="1434.5" r="4.2"/>
<circle cx="1896.3" cy="1435.9" r="4.2"/>
<circle cx="1905.8" cy="1433.4" r="4.2"/>
<circle cx="1908.5" cy="1434.5" r="4.2"/>
<circle cx="1913.7" cy="1426.4" r="4.2"/>
<circle cx="1919.9" cy="1426.4" r="4.2"/>
<circle cx="1916.5" cy="1434.5" r="4.2"/>
<circle cx="1921.6" cy="1443.5" r="4.2"/>
<circle cx="1922.7" cy="1452.3" r="4.2"/>
<circle cx="1924.8" cy="1452.3" r="4.2"/>
<circle cx="1927.6" cy="1434.5" r="4.2"/>
<circle cx="1930.8" cy="1434.5" r="4.2"/>
<circle cx="1940.8" cy="1421.3" r="4.2"/>
<circle cx="1971.7" cy="1426.4" r="4.2"/>
<circle cx="1974.8" cy="1426.4" r="4.2"/>
<circle cx="1990.4" cy="1426.4" r="4.2"/>
<circle cx="1995.7" cy="1429.6" r="4.2"/>
<circle cx="1991.5" cy="1434.5" r="4.2"/>
<circle cx="1996.4" cy="1434.5" r="4.2"/>
<circle cx="2006.4" cy="1428.5" r="4.2"/>
<circle cx="2012.4" cy="1426.4" r="4.2"/>
<circle cx="2021.4" cy="1424.0" r="4.2"/>
<circle cx="2022.4" cy="1434.5" r="4.2"/>
<circle cx="2053.8" cy="1426.4" r="4.2"/>
<circle cx="2057.2" cy="1426.4" r="4.2"/>
<circle cx="2061.3" cy="1433.8" r="4.2"/>
<circle cx="2064.5" cy="1436.2" r="4.2"/>
<circle cx="2062.4" cy="1445.3" r="4.2"/>
<circle cx="2070.8" cy="1443.2" r="4.2"/>
<circle cx="2072.5" cy="1452.3" r="4.2"/>
<circle cx="2077.5" cy="1424.7" r="4.2"/>
<circle cx="2089.2" cy="1426.4" r="4.2"/>
<circle cx="2091.4" cy="1426.4" r="4.2"/>
<circle cx="2093.8" cy="1434.5" r="4.2"/>
<circle cx="2097.5" cy="1437.3" r="4.2"/>
<circle cx="2095.4" cy="1452.3" r="4.2"/>
<circle cx="2106.3" cy="1423.6" r="4.2"/>
<circle cx="2109.3" cy="1426.4" r="4.2"/>
<circle cx="2111.4" cy="1434.5" r="4.2"/>
<circle cx="2134.5" cy="1426.4" r="4.2"/>
<circle cx="2142.5" cy="1423.1" r="4.2"/>
<circle cx="2144.5" cy="1438.4" r="4.2"/>
<circle cx="2150.1" cy="1434.5" r="4.2"/>
<circle cx="2151.8" cy="1443.5" r="4.2"/>
<circle cx="2154.3" cy="1452.3" r="4.2"/>
<circle cx="2158.7" cy="1431.4" r="4.2"/>
<circle cx="2162.4" cy="1434.2" r="4.2"/>
<circle cx="2161.5" cy="1443.5" r="4.2"/>
<circle cx="2170.3" cy="1426.4" r="4.2"/>
<circle cx="2175.2" cy="1426.4" r="4.2"/>
<circle cx="2179.3" cy="1426.4" r="4.2"/>
<circle cx="2186.6" cy="1430.3" r="4.2"/>
<circle cx="2190.5" cy="1420.6" r="4.2"/>
<circle cx="2221.4" cy="1426.4" r="4.2"/>
<circle cx="2224.6" cy="1426.4" r="4.2"/>
<circle cx="2228.7" cy="1422.7" r="4.2"/>
<circle cx="2244.3" cy="1436.2" r="4.2"/>
<circle cx="2247.0" cy="1443.5" r="4.2"/>
<circle cx="2272.4" cy="1422.7" r="4.2"/>
<circle cx="2278.3" cy="1426.4" r="4.2"/>
<circle cx="2279.4" cy="1434.5" r="4.2"/>
<circle cx="2286.4" cy="1429.3" r="4.2"/>
<circle cx="2291.2" cy="1428.9" r="4.2"/>
<circle cx="2295.1" cy="1426.4" r="4.2"/>
<circle cx="2297.1" cy="1434.2" r="4.2"/>
<circle cx="2298.5" cy="1443.5" r="4.2"/>
<circle cx="2301.4" cy="1443.2" r="4.2"/>
<circle cx="2305.4" cy="1452.3" r="4.2"/>
<circle cx="2311.0" cy="1426.4" r="4.2"/>
<circle cx="2319.5" cy="1426.4" r="4.2"/>
</g>
<line class="tk" x1="1364.50" y1="1876.5" x2="1364.50" y2="1891.90"/>
<text class="b" text-anchor="middle" x="1364.00" y="1933.20">0</text>
<line class="tk" x1="1521.50" y1="1876.5" x2="1521.50" y2="1891.90"/>
<text class="b" text-anchor="middle" x="1520.81" y="1933.20">50</text>
<line class="tk" x1="1678.50" y1="1876.5" x2="1678.50" y2="1891.90"/>
<text class="b" text-anchor="middle" x="1677.62" y="1933.20">100</text>
<line class="tk" x1="1835.50" y1="1876.5" x2="1835.50" y2="1891.90"/>
<text class="b" text-anchor="middle" x="1834.43" y="1933.20">150</text>
<line class="tk" x1="1991.50" y1="1876.5" x2="1991.50" y2="1891.90"/>
<text class="b" text-anchor="middle" x="1991.24" y="1933.20">200</text>
<line class="tk" x1="2148.50" y1="1876.5" x2="2148.50" y2="1891.90"/>
<text class="b" text-anchor="middle" x="2148.05" y="1933.20">250</text>
<line class="tk" x1="2305.50" y1="1876.5" x2="2305.50" y2="1891.90"/>
<text class="b" text-anchor="middle" x="2304.86" y="1933.20">300</text>
<line class="tk" x1="2462.50" y1="1876.5" x2="2462.50" y2="1891.90"/>
<text class="b" text-anchor="middle" x="2461.67" y="1933.20">350</text>
<text text-anchor="middle" x="1940.00" y="1987">Y Date (Year: 2025)</text>
<rect class="sp" x="1364.5" y="1421.5" width="1151" height="455.0"/>
<text class="b" x="1457.80" y="1490">Pitch: 160-180</text>
</svg></body></html>
